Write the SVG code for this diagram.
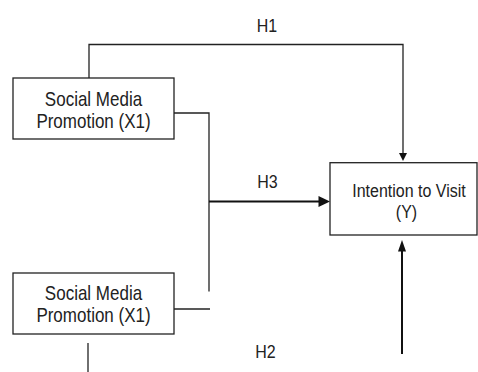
<svg xmlns="http://www.w3.org/2000/svg" width="478" height="372" viewBox="0 0 478 372">
<style>
.box{fill:#fff;stroke:#222;stroke-width:1.3}
.ln{fill:none;stroke:#222;stroke-width:1.3}
.thick{fill:none;stroke:#111;stroke-width:2}
.ah{fill:#111;stroke:none}
.t{font-family:"Liberation Sans",Arial,sans-serif;font-size:17px;fill:#222;text-anchor:middle}
.ty{font-family:"Liberation Sans",Arial,sans-serif;font-size:16px;fill:#222;text-anchor:middle}
.h{font-family:"Liberation Sans",Arial,sans-serif;font-size:16px;fill:#222;text-anchor:middle}
</style>
<rect width="478" height="372" fill="#fff"/>
<g id="connectors">
  <polyline class="ln" points="89,78 89,44.5 403,44.5 403,154"/>
  <polygon class="ah" points="399,153 407,153 403,161"/>
  <polyline class="ln" points="174,113 209,113 209,291.5"/>
  <line class="thick" x1="209" y1="201.5" x2="320" y2="201.5"/>
  <polygon class="ah" points="318.5,196 330,201.5 318.5,207"/>
  <line class="ln" x1="174" y1="309" x2="210" y2="309"/>
  <line class="ln" x1="88" y1="343" x2="88" y2="372"/>
  <line class="thick" x1="402" y1="354" x2="402" y2="250"/>
  <polygon class="ah" points="398,251.5 406,251.5 402,240"/>
  <text class="h" transform="translate(267,32) scale(1,1.15)">H1</text>
  <text class="h" transform="translate(267.5,188.3) scale(1,1.15)">H3</text>
  <text class="h" transform="translate(265.5,358.3) scale(1,1.15)">H2</text>
</g>
<g id="x1-top">
  <rect class="box" x="13" y="78" width="161" height="61"/>
  <text class="t" transform="translate(93.5,105.7) scale(1,1.18)">Social Media</text>
  <text class="t" transform="translate(93.5,128.3) scale(1,1.18)">Promotion (X1)</text>
</g>
<g id="x1-bottom">
  <rect class="box" x="13" y="273" width="161" height="61"/>
  <text class="t" transform="translate(93.5,299.7) scale(1,1.18)">Social Media</text>
  <text class="t" transform="translate(93.5,321.5) scale(1,1.18)">Promotion (X1)</text>
</g>
<g id="y">
  <rect class="box" x="330" y="162.7" width="147" height="72.3"/>
  <text class="ty" transform="translate(409,196.7) scale(1,1.18)">Intention to Visit</text>
  <text class="ty" transform="translate(406.5,218) scale(1,1.18)">(Y)</text>
</g>
</svg>
